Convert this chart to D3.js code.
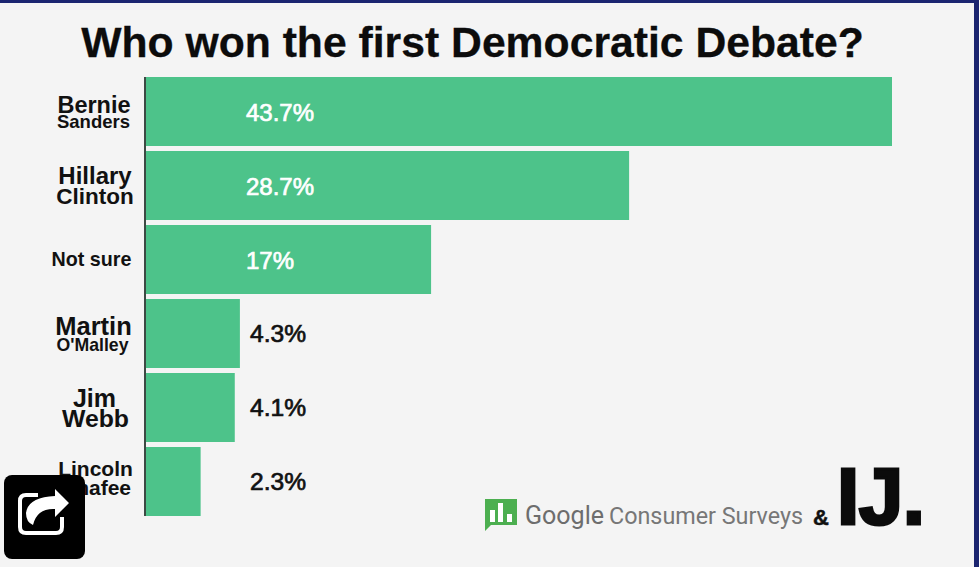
<!DOCTYPE html>
<html><head><meta charset="utf-8">
<script src="https://cdn.jsdelivr.net/npm/d3@7/dist/d3.min.js"></script>
<style>html,body{margin:0;padding:0;background:#f4f4f4;overflow:hidden}svg{display:block}text{font-family:"Liberation Sans",Arial,sans-serif}</style>
</head><body><svg id="c" width="979" height="567"></svg>
<script>
const titleText = "Who won the first Democratic Debate?";
const firstLines = ["Bernie","Hillary","Not sure","Martin","Jim","Lincoln"];
const secondLines = ["Sanders","Clinton","","O'Malley","Webb","Chafee"];
const categories = firstLines.map((f,i)=>f+" "+secondLines[i]);
// printed percentages
const printedValues = [43.7,28.7,17,4.3,4.1,2.3];
const printedLabels = ["43.7%","28.7%","17%","4.3%","4.1%","2.3%"];
// drawn bar lengths as they appear in the picture, in units of the top bar's scale
const barLengths = [43.7,28.3,16.7,5.5,5.2,3.2];
const logoSource = ["Google","Consumer Surveys"];

const W=979,H=567;
const svg=d3.select("#c");
svg.append("rect").attr("width",W).attr("height",H).attr("fill","#f4f4f4");
svg.append("rect").attr("width",W).attr("height",3).attr("fill","#1b2570");
svg.append("rect").attr("x",974).attr("width",5).attr("height",H).attr("fill","#1b2570");

svg.append("text").attr("x",472.5).attr("y",57).attr("text-anchor","middle")
  .attr("font-size",42.7).attr("font-weight",700).attr("fill","#0c0c0c")
  .attr("stroke","#0c0c0c").attr("stroke-width",0.3).text(titleText);

const x=d3.scaleLinear().domain([0,43.7]).range([146,892]);
const y=d3.scaleBand().domain(categories).range([77,516]).paddingInner(0.0676);

svg.append("g").selectAll("rect").data(categories).join("rect")
  .attr("x",x(0)).attr("y",d=>y(d)).attr("height",y.bandwidth())
  .attr("width",(d,i)=>x(barLengths[i])-x(0)).attr("fill","#4dc38a");

svg.append("line").attr("x1",145).attr("x2",145).attr("y1",77).attr("y2",516)
  .attr("stroke","#3c4a44").attr("stroke-width",2);

// value labels: inside the bar (white) when the value is large, otherwise beside it (black)
svg.append("g").selectAll("text").data(categories).join("text")
  .attr("x",(d,i)=>printedValues[i]>10?246:250)
  .attr("y",(d,i)=>y(d)+y.bandwidth()/2+(printedValues[i]>10?10:8.5))
  .attr("font-size",(d,i)=>printedValues[i]>10?24:24.6)
  .attr("fill",(d,i)=>printedValues[i]>10?"#fff":"#111")
  .attr("stroke",(d,i)=>printedValues[i]>10?"#fff":"#111")
  .attr("stroke-width",0.7)
  .text((d,i)=>printedLabels[i]);

// category labels: font sizes, baseline offsets and centres of the two lines
const rowStyle=[
 {a:23.5,b:18.5,ya:1.5,yb:16.5,xa:94,xb:93.5},
 {a:24,b:22.5,ya:-1.5,yb:18.5,xa:95,xb:95},
 {a:19.7,b:0,ya:7,yb:0,xa:91.5,xb:0},
 {a:25.5,b:17.7,ya:1.5,yb:17.5,xa:93.5,xb:92.5},
 {a:25,b:24.8,ya:-0.5,yb:19.5,xa:94.5,xb:95.5},
 {a:21,b:21,ya:-5.5,yb:13.5,xa:95.5,xb:96}];
const g=svg.append("g");
categories.forEach((c,i)=>{
  const cy=y(c)+y.bandwidth()/2, s=rowStyle[i];
  g.append("text").attr("x",s.xa).attr("y",cy+s.ya).attr("text-anchor","middle")
    .attr("font-size",s.a).attr("font-weight",700).attr("fill","#111").text(firstLines[i]);
  if(secondLines[i]) g.append("text").attr("x",s.xb).attr("y",cy+s.yb).attr("text-anchor","middle")
    .attr("font-size",s.b).attr("font-weight",700).attr("fill","#111").text(secondLines[i]);
});

// Google Consumer Surveys logo
const lg=svg.append("g").attr("transform","translate(485,499)");
lg.append("path").attr("d","M0 0H32V26H6L0 32Z").attr("fill","#4caf50");
[[5,11,5,12],[13,4,5,19],[22,15,5,8]].forEach(b=>lg.append("rect").attr("x",b[0]).attr("y",b[1]).attr("width",b[2]).attr("height",b[3]).attr("fill","#fff"));
svg.append("text").attr("x",525).attr("y",524).style("font-family","Roboto")
  .attr("font-size",26).attr("fill","#6d6d6d").attr("textLength",79).attr("lengthAdjust","spacingAndGlyphs").text(logoSource[0]);
svg.append("text").attr("x",609).attr("y",524).style("font-family","Roboto")
  .attr("font-size",24).attr("fill","#777").attr("textLength",194).attr("lengthAdjust","spacingAndGlyphs").text(logoSource[1]);
svg.append("text").attr("x",813).attr("y",525).attr("font-size",22).attr("font-weight",700).attr("fill","#111")
  .attr("stroke","#111").attr("stroke-width",0.5).text("&");
svg.append("text").attr("x",837).attr("y",523.5).attr("font-size",80).attr("font-weight",700).attr("fill","#0b0b0b")
  .attr("stroke","#0b0b0b").attr("stroke-width",3).attr("textLength",88).text("IJ.");

// share button overlay
const sb=svg.append("g").attr("transform","translate(4,475)");
sb.append("rect").attr("width",81).attr("height",84).attr("rx",8).attr("fill","#000");
sb.append("path").attr("d","M58 42 V52 Q58 58 52 58 H22 Q16 58 16 52 V26 Q16 20 22 20 H34").attr("fill","none").attr("stroke","#fff").attr("stroke-width",4);
sb.append("path").attr("d","M51 14 L65 28 L51 42 V34 Q33 33 29 50 Q22 47 22 38 Q24 22 51 21 Z").attr("fill","#fff");
</script></body></html>
